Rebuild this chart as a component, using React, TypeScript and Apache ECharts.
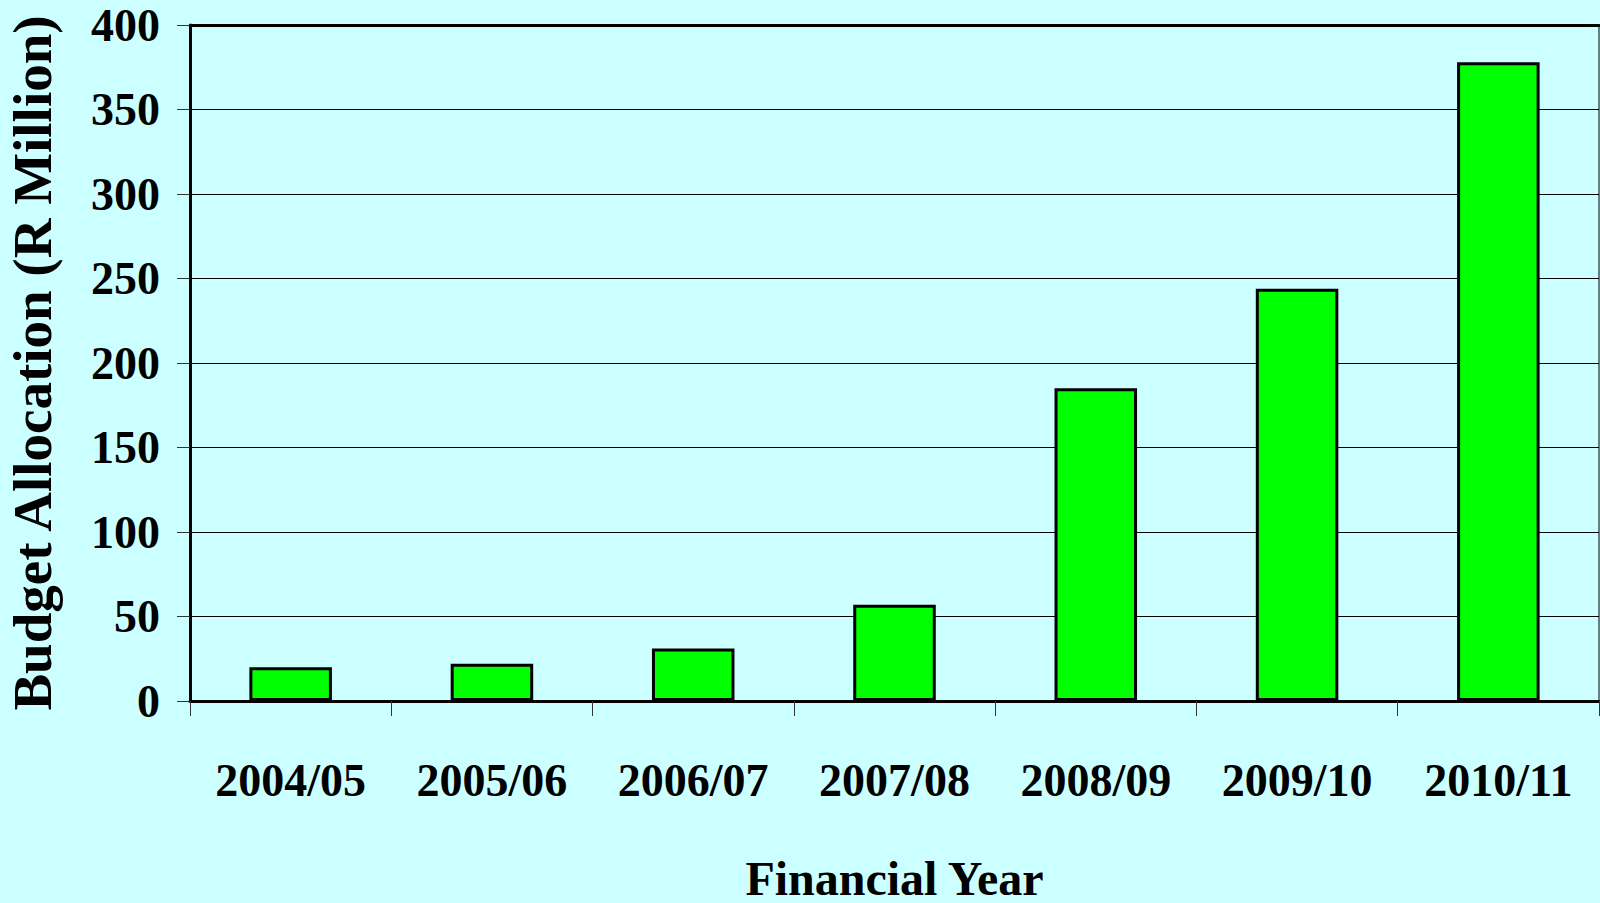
import React, { useEffect, useRef } from "react";
import * as echarts from "echarts";

const categories = ["2004/05", "2005/06", "2006/07", "2007/08", "2008/09", "2009/10", "2010/11"];
const budget = [20, 22, 31, 57, 185, 244, 378];
const yTicks = { min: 0, max: 400, interval: 50 };
const xTitle = "Financial Year";
const yTitle = "Budget Allocation (R Million)";

const FONT = "'Liberation Serif', 'Times New Roman', serif";

export default function App() {
  const ref = useRef<HTMLDivElement>(null);
  useEffect(() => {
    document.body.style.margin = "0";
    const chart = echarts.init(ref.current!, null, { renderer: "svg" });
    chart.setOption({
      animation: false,
      backgroundColor: "#CCFFFF",
      grid: {
        left: 190,
        right: 1,
        top: 25,
        bottom: 202,
        outerBoundsMode: "none",
        containLabel: false,
        show: true,
        borderColor: "#000",
        borderWidth: 1,
      },
      xAxis: [
        {
          type: "category",
          data: categories,
          position: "bottom",
          name: xTitle,
          nameLocation: "middle",
          nameGap: 153,
          nameTextStyle: { fontFamily: FONT, fontWeight: "bold", fontSize: 48, color: "#000" },
          axisLine: { show: true, lineStyle: { color: "#000", width: 3 } },
          axisTick: { show: true, length: 15, lineStyle: { color: "#333", width: 1 } },
          axisLabel: { margin: 56, fontFamily: FONT, fontWeight: "bold", fontSize: 46, color: "#000" },
          splitLine: { show: false },
        },
        {
          type: "category",
          data: categories,
          position: "top",
          axisLine: { show: true, lineStyle: { color: "#000", width: 3 } },
          axisTick: { show: false },
          axisLabel: { show: false },
          splitLine: { show: false },
        },
      ],
      yAxis: {
        type: "value",
        min: yTicks.min,
        max: yTicks.max,
        interval: yTicks.interval,
        name: yTitle,
        nameLocation: "middle",
        nameGap: 130,
        nameTextStyle: { fontFamily: FONT, fontWeight: "bold", fontSize: 55, color: "#000" },
        axisLine: { show: true, lineStyle: { color: "#000", width: 3 } },
        axisTick: { show: true, length: 13, lineStyle: { color: "#333", width: 1 } },
        axisLabel: { margin: 30, fontFamily: FONT, fontWeight: "bold", fontSize: 46, color: "#000" },
        splitLine: { show: true, lineStyle: { color: "#000", width: 1 } },
      },
      series: [
        {
          type: "bar",
          data: budget,
          barWidth: "41%",
          itemStyle: { color: "#00FF00", borderColor: "#000", borderWidth: 3 },
        },
      ],
    });
    return () => chart.dispose();
  }, []);
  return <div ref={ref} style={{ width: 1600, height: 903 }} />;
}
